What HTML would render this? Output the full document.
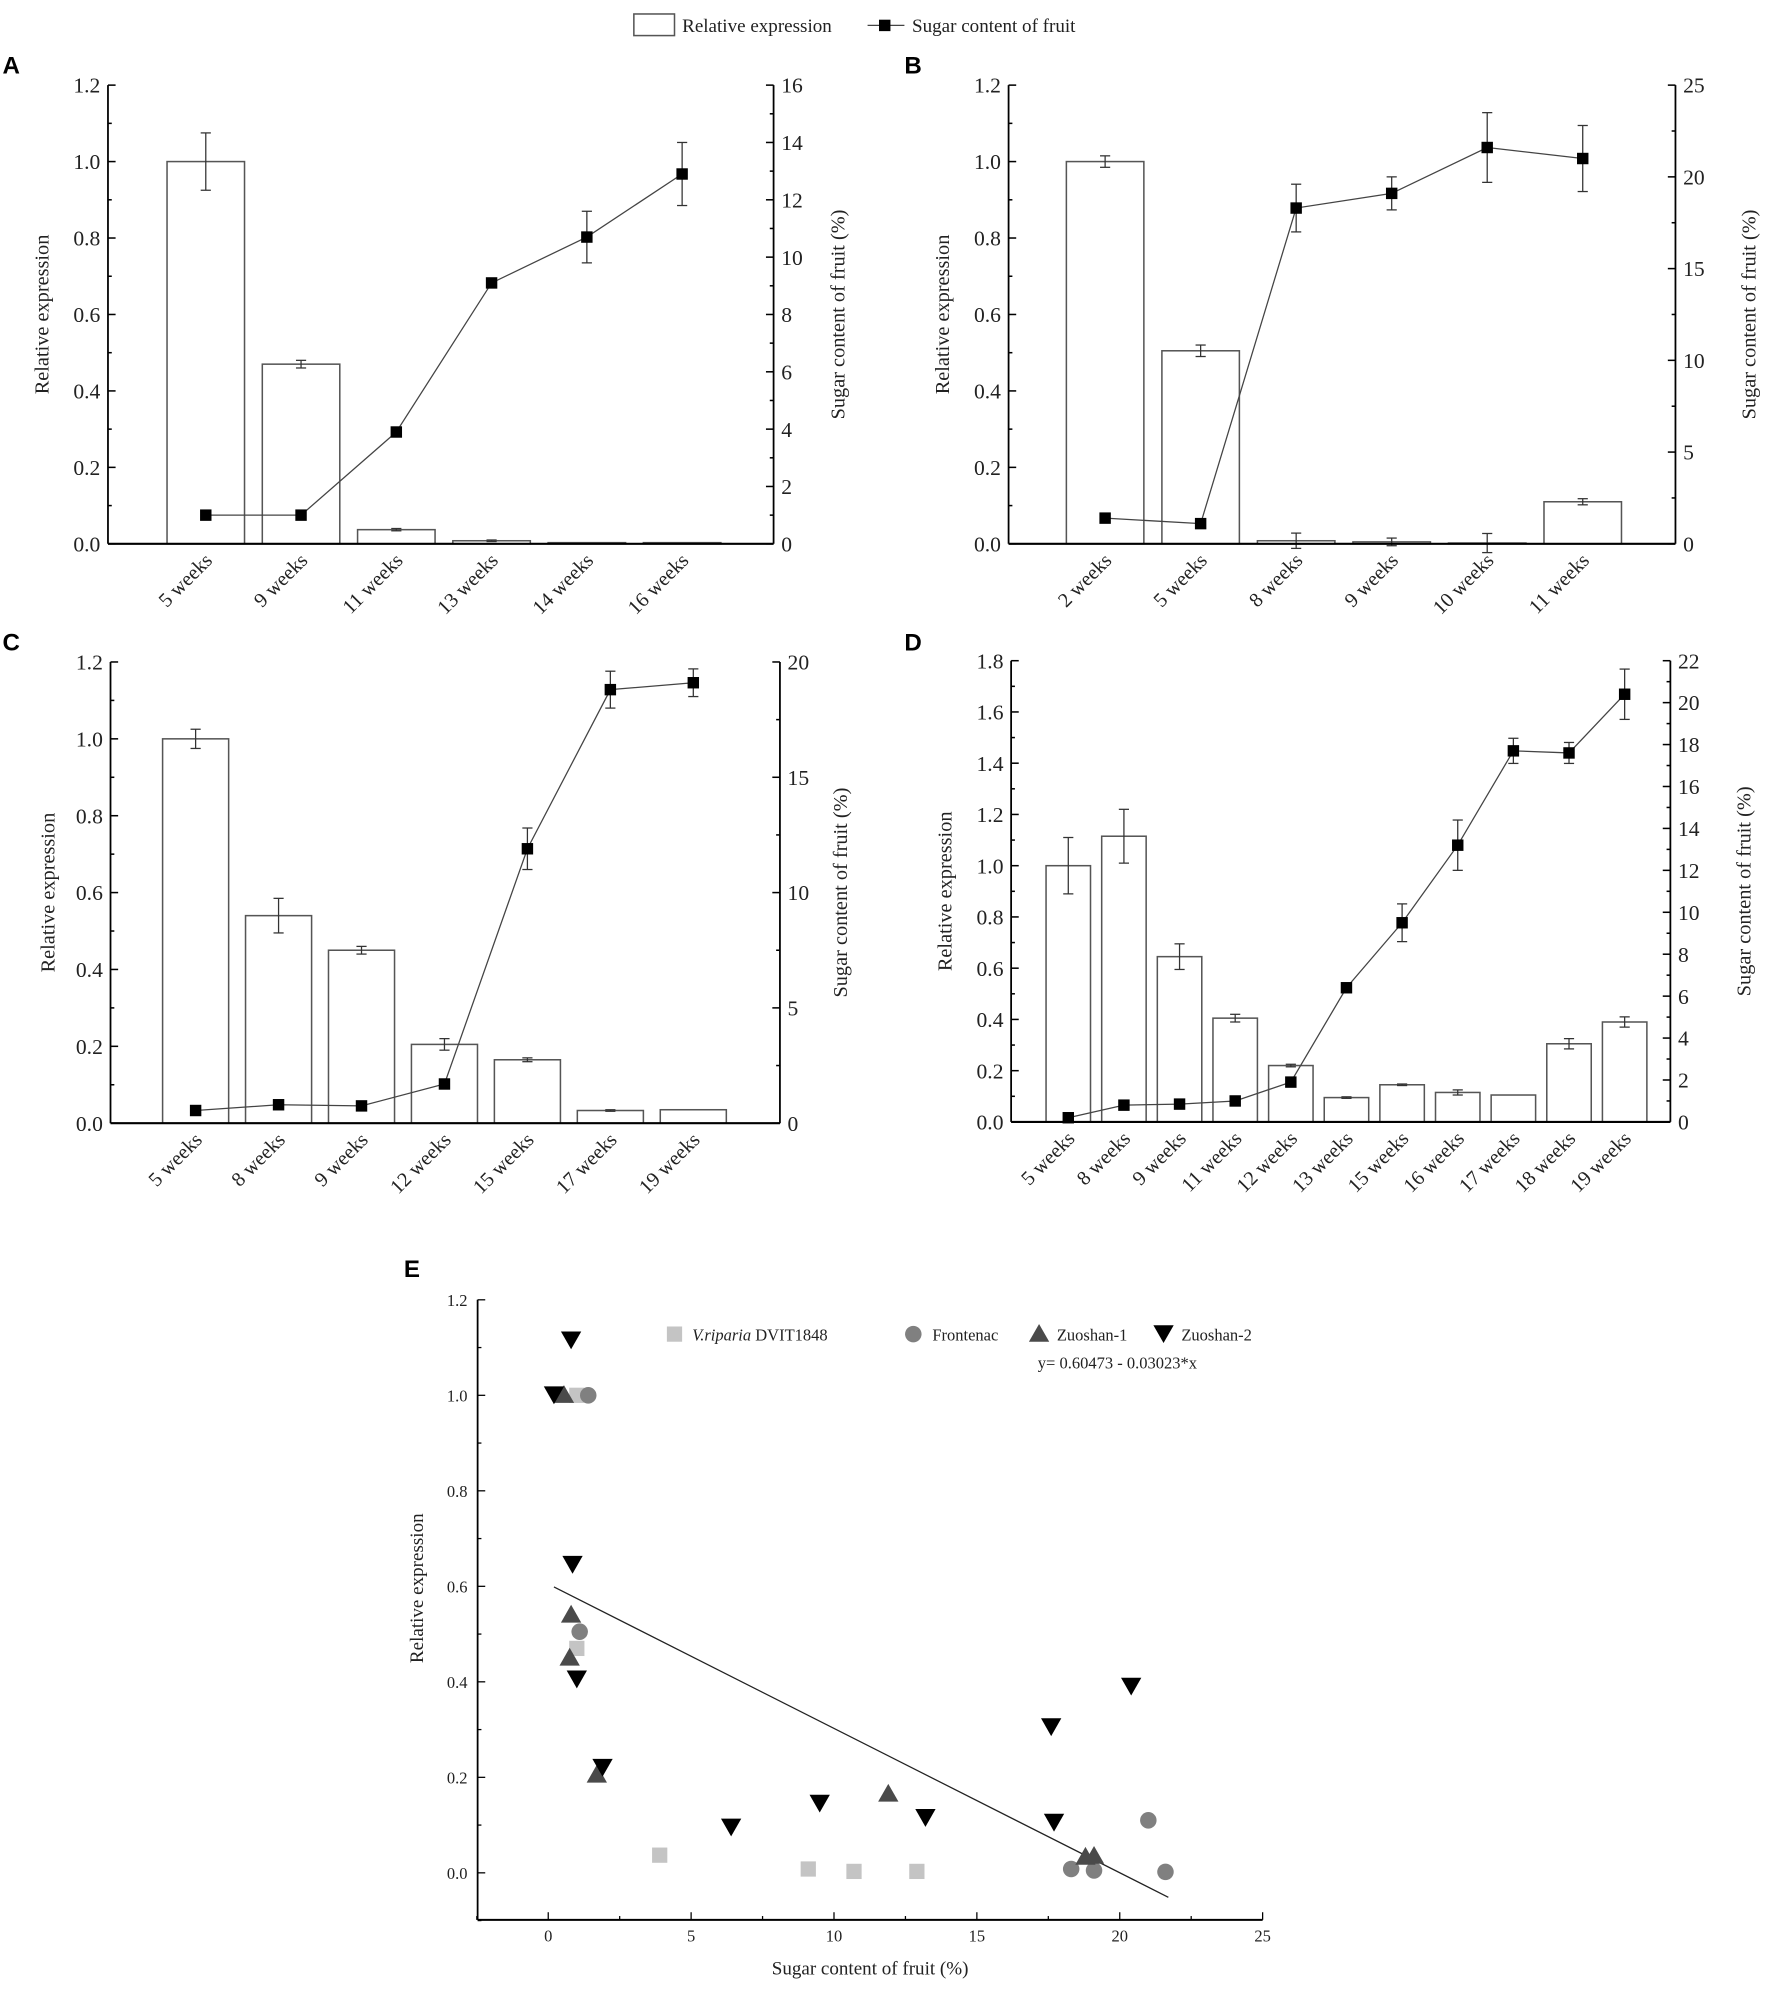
<!DOCTYPE html>
<html><head><meta charset="utf-8"><style>
html,body{margin:0;padding:0;background:#fff}
svg{display:block}
text{font-family:"Liberation Serif",serif;fill:#222}
.pl{font-family:"Liberation Sans",sans-serif;font-weight:bold;font-size:19px;fill:#000}
</style></head><body>
<svg id="fig" width="1772" height="1991" viewBox="0 0 1395 1567" preserveAspectRatio="none" xmlns="http://www.w3.org/2000/svg">
<g>
<rect x="499" y="11" width="32" height="17" fill="#fff" stroke="#555" stroke-width="1.2"/>
<text x="537" y="25" font-size="15">Relative expression</text>
<line x1="683" y1="20" x2="712" y2="20" stroke="#444" stroke-width="1"/>
<rect x="692" y="15.5" width="9" height="9" fill="#000"/>
<text x="718" y="25" font-size="15">Sugar content of fruit</text>
</g>
</svg>
<script>
const NS='http://www.w3.org/2000/svg';
const svg=document.getElementById('fig');
function mk(tag,attrs,parent){const e=document.createElementNS(NS,tag);for(const k in attrs)e.setAttribute(k,attrs[k]);(parent||svg).appendChild(e);return e;}

// Panel A
const catsA=['5 weeks','9 weeks','11 weeks','13 weeks','14 weeks','16 weeks'];
const expA=[1.0,0.47,0.037,0.008,0.003,0.003];
const expErrA=[0.075,0.01,0.003,0.002,0,0];
const sugA=[1.0,1.0,3.9,9.1,10.7,12.9];
const sugErrA=[0,0,0.1,0,0.9,1.1];
const leftTicksA=['0.0','0.2','0.4','0.6','0.8','1.0','1.2'];
const rightTicksA=['0','2','4','6','8','10','12','14','16'];
// Panel B
const catsB=['2 weeks','5 weeks','8 weeks','9 weeks','10 weeks','11 weeks'];
const expB=[1.0,0.505,0.008,0.005,0.002,0.11];
const expErrB=[0.015,0.015,0.02,0.01,0.025,0.008];
const sugB=[1.4,1.1,18.3,19.1,21.6,21.0];
const sugErrB=[0,0,1.3,0.9,1.9,1.8];
const leftTicksB=['0.0','0.2','0.4','0.6','0.8','1.0','1.2'];
const rightTicksB=['0','5','10','15','20','25'];
// Panel C
const catsC=['5 weeks','8  weeks','9  weeks','12 weeks','15 weeks','17 weeks','19 weeks'];
const expC=[1.0,0.54,0.45,0.205,0.165,0.033,0.035];
const expErrC=[0.025,0.045,0.01,0.015,0.005,0.002,0];
const sugC=[0.55,0.8,0.75,1.7,11.9,18.8,19.1];
const sugErrC=[0,0,0,0,0.9,0.8,0.6];
const leftTicksC=['0.0','0.2','0.4','0.6','0.8','1.0','1.2'];
const rightTicksC=['0','5','10','15','20'];
// Panel D
const catsD=['5 weeks','8  weeks','9  weeks','11 weeks','12 weeks','13 weeks','15 weeks','16 weeks','17 weeks','18 weeks','19 weeks'];
const expD=[1.0,1.115,0.645,0.405,0.22,0.095,0.145,0.115,0.105,0.305,0.39];
const expErrD=[0.11,0.105,0.05,0.015,0.005,0.003,0.003,0.01,0,0.02,0.02];
const sugD=[0.2,0.8,0.85,1.0,1.9,6.4,9.5,13.2,17.7,17.6,20.4];
const sugErrD=[0,0,0,0,0,0,0.9,1.2,0.6,0.5,1.2];
const leftTicksD=['0.0','0.2','0.4','0.6','0.8','1.0','1.2','1.4','1.6','1.8'];
const rightTicksD=['0','2','4','6','8','10','12','14','16','18','20','22'];

function panel(o){
  const g=mk('g',{});
  
  
  const yL=v=>o.bot-(v/o.lmax)*(o.bot-o.top);
  const yR=v=>o.bot-(v/o.rmax)*(o.bot-o.top);
  const xC=i=>o.left+o.off+i*o.slot;
  o.exp.forEach((v,i)=>{
    const r=mk('rect',{x:xC(i)-o.bw/2,y:yL(v),width:o.bw,height:Math.max(0.5,o.bot-yL(v)),fill:'#fff',stroke:'#555','stroke-width':1.2},g);
    
    
    const e=o.expErr[i];
    if(e>0){
      mk('line',{x1:xC(i),x2:xC(i),y1:yL(v+e),y2:yL(v-e),stroke:'#333','stroke-width':1},g);
      mk('line',{x1:xC(i)-4,x2:xC(i)+4,y1:yL(v+e),y2:yL(v+e),stroke:'#333','stroke-width':1},g);
      mk('line',{x1:xC(i)-4,x2:xC(i)+4,y1:yL(v-e),y2:yL(v-e),stroke:'#333','stroke-width':1},g);
    }
  });
  const pts=o.sug.map((v,i)=>xC(i)+','+yR(v)).join(' ');
  const pl=mk('polyline',{points:pts,fill:'none',stroke:'#444','stroke-width':1},g);
  
  
  o.sug.forEach((v,i)=>{
    const e=o.sugErr[i];
    if(e>0){
      mk('line',{x1:xC(i),x2:xC(i),y1:yR(v+e),y2:yR(v-e),stroke:'#333','stroke-width':1},g);
      mk('line',{x1:xC(i)-4,x2:xC(i)+4,y1:yR(v+e),y2:yR(v+e),stroke:'#333','stroke-width':1},g);
      mk('line',{x1:xC(i)-4,x2:xC(i)+4,y1:yR(v-e),y2:yR(v-e),stroke:'#333','stroke-width':1},g);
    }
    const m=mk('rect',{x:xC(i)-4.5,y:yR(v)-4.5,width:9,height:9,fill:'#000'},g);
    
    
  });
  mk('line',{x1:o.left,x2:o.left,y1:o.top,y2:o.bot,stroke:'#000','stroke-width':1.4},g);
  mk('line',{x1:o.right,x2:o.right,y1:o.top,y2:o.bot,stroke:'#000','stroke-width':1.4},g);
  mk('line',{x1:o.left,x2:o.right,y1:o.bot,y2:o.bot,stroke:'#000','stroke-width':1.6},g);
  const nl=o.lt.length-1;
  for(let k=0;k<=nl*2;k++){
    const y=o.bot-k/(nl*2)*(o.bot-o.top);
    mk('line',{x1:o.left,x2:o.left+(k%2?3:6),y1:y,y2:y,stroke:'#000','stroke-width':1.2},g);
  }
  o.lt.forEach((t,k)=>{
    const tx=mk('text',{x:o.left-6,y:o.bot-k/nl*(o.bot-o.top)+6,'text-anchor':'end','font-size':17},g);tx.textContent=t;
    
    
  });
  const nr=o.rt.length-1;
  for(let k=0;k<=nr*2;k++){
    const y=o.bot-k/(nr*2)*(o.bot-o.top);
    mk('line',{x1:o.right-(k%2?3:6),x2:o.right,y1:y,y2:y,stroke:'#000','stroke-width':1.2},g);
  }
  o.rt.forEach((t,k)=>{
    const tx=mk('text',{x:o.right+6,y:o.bot-k/nr*(o.bot-o.top)+6,'font-size':17},g);tx.textContent=t;
    
    
  });
  o.cats.forEach((c,i)=>{
    const x=xC(i)+6,y=o.bot+14;
    const tx=mk('text',{x:x,y:y,'text-anchor':'end','font-size':16,transform:`rotate(-45 ${x} ${y})`,'xml:space':'preserve'},g);tx.textContent=c;
    
    
  });
  const my=(o.top+o.bot)/2;
  const yl=mk('text',{x:o.ylx,y:my,'text-anchor':'middle','font-size':16,transform:`rotate(-90 ${o.ylx} ${my})`},g);yl.textContent='Relative expression';
  
  
  const yr=mk('text',{x:o.yrx,y:my,'text-anchor':'middle','font-size':16,transform:`rotate(-90 ${o.yrx} ${my})`},g);yr.textContent='Sugar content of fruit (%)';
  
  
  const pl2=mk('text',{x:o.lx,y:o.ly,class:'pl'},g);pl2.textContent=o.id;
  
  
}
panel({id:'A',cats:catsA,exp:expA,expErr:expErrA,sug:sugA,sugErr:sugErrA,lt:leftTicksA,rt:rightTicksA,lmax:1.2,rmax:16,left:85,right:609,top:67,bot:428,off:77,slot:75,bw:61,ylx:38,yrx:665,lx:2,ly:58});
panel({id:'B',cats:catsB,exp:expB,expErr:expErrB,sug:sugB,sugErr:sugErrB,lt:leftTicksB,rt:rightTicksB,lmax:1.2,rmax:25,left:794,right:1319,top:67,bot:428,off:76,slot:75.2,bw:61,ylx:747,yrx:1382,lx:712,ly:58});
panel({id:'C',cats:catsC,exp:expC,expErr:expErrC,sug:sugC,sugErr:sugErrC,lt:leftTicksC,rt:rightTicksC,lmax:1.2,rmax:20,left:87,right:614,top:521,bot:884,off:67,slot:65.3,bw:52,ylx:43,yrx:667,lx:2,ly:512});
panel({id:'D',cats:catsD,exp:expD,expErr:expErrD,sug:sugD,sugErr:sugErrD,lt:leftTicksD,rt:rightTicksD,lmax:1.8,rmax:22,left:796,right:1315,top:520,bot:883,off:45,slot:43.8,bw:35,ylx:749,yrx:1378,lx:712,ly:512});

// Panel E scatter
const sugE1=[1.0,1.0,3.9,9.1,10.7,12.9];
const expE1=[1.0,0.47,0.037,0.008,0.003,0.003];
const sugE2=[1.4,1.1,18.3,19.1,21.6,21.0];
const expE2=[1.0,0.505,0.008,0.005,0.002,0.11];
const sugE3=[0.55,0.8,0.75,1.7,11.9,18.8,19.1];
const expE3=[1.0,0.54,0.45,0.205,0.165,0.033,0.035];
const sugE4=[0.2,0.8,0.85,1.0,1.9,6.4,9.5,13.2,17.7,17.6,20.4];
const expE4=[1.0,1.115,0.645,0.405,0.22,0.095,0.145,0.115,0.105,0.305,0.39];
const fitE=[0.60473,-0.03023];
const xTicksE=['0','5','10','15','20','25'];
const yTicksE=['0.0','0.2','0.4','0.6','0.8','1.0','1.2'];
(function(){
  const g=mk('g',{});
  
  
  const L=376,R=994,T=1023,B=1511;
  const X=v=>431.6+v*(994-431.6)/25;
  const Y=v=>1474-v*(1474-1023)/1.2;
  mk('line',{x1:L,x2:L,y1:T,y2:B,stroke:'#000','stroke-width':1.4},g);
  mk('line',{x1:L,x2:R,y1:B,y2:B,stroke:'#000','stroke-width':1.6},g);
  for(let k=-1;k<=12;k++){const y=Y(k*0.1);mk('line',{x1:L,x2:L+(k%2?3:6),y1:y,y2:y,stroke:'#000'},g);}
  yTicksE.forEach((t,k)=>{const tx=mk('text',{x:L-8,y:Y(k*0.2)+5,'text-anchor':'end','font-size':13},g);tx.textContent=t;
    
    });
  for(let k=-1;k<=10;k++){const x=X(k*2.5);mk('line',{x1:x,x2:x,y1:B,y2:B-(k%2?3:6),stroke:'#000'},g);}
  xTicksE.forEach((t,k)=>{const tx=mk('text',{x:X(k*5),y:B+17,'text-anchor':'middle','font-size':13},g);tx.textContent=t;
    
    });
  const xt=mk('text',{x:685,y:1554,'text-anchor':'middle','font-size':15},g);xt.textContent='Sugar content of fruit (%)';
  
  
  const yt=mk('text',{x:333,y:1250,'text-anchor':'middle','font-size':15,transform:'rotate(-90 333 1250)'},g);yt.textContent='Relative expression';
  
  
  const pe=mk('text',{x:318,y:1005,class:'pl'},g);pe.textContent='E';
  
  
  const fl=mk('line',{x1:X(0.2),y1:Y(fitE[0]+fitE[1]*0.2),x2:X(21.7),y2:Y(fitE[0]+fitE[1]*21.7),stroke:'#222','stroke-width':1},g);
  
  
  function sq(x,y,c){return mk('rect',{x:x-6,y:y-6,width:12,height:12,fill:c},g);}
  function ci(x,y,c){return mk('circle',{cx:x,cy:y,r:6.5,fill:c},g);}
  function tu(x,y,c){return mk('polygon',{points:`${x-8},${y+6} ${x+8},${y+6} ${x},${y-8}`,fill:c},g);}
  function td(x,y,c){return mk('polygon',{points:`${x-8},${y-7} ${x+8},${y-7} ${x},${y+7}`,fill:c},g);}
  sugE1.forEach((s,i)=>{const m=sq(X(s),Y(expE1[i]),'#c4c4c4');});
  sugE2.forEach((s,i)=>{const m=ci(X(s),Y(expE2[i]),'#808080');});
  sugE3.forEach((s,i)=>{const m=tu(X(s),Y(expE3[i]),'#4a4a4a');});
  sugE4.forEach((s,i)=>{const m=td(X(s),Y(expE4[i]),'#000');});
  const lg=mk('g',{},g);
  
  
  sq(531,1050,'#c4c4c4');
  const t1=mk('text',{x:545,y:1055,'font-size':13},lg);t1.innerHTML='<tspan font-style="italic">V.riparia</tspan> DVIT1848';
  ci(719,1050,'#808080');
  const t2=mk('text',{x:734,y:1055,'font-size':13},lg);t2.textContent='Frontenac';
  tu(818,1050,'#4a4a4a');
  const t3=mk('text',{x:832,y:1055,'font-size':13},lg);t3.textContent='Zuoshan-1';
  td(916,1050,'#000');
  const t4=mk('text',{x:930,y:1055,'font-size':13},lg);t4.textContent='Zuoshan-2';
  const t5=mk('text',{x:817,y:1077,'font-size':13},lg);t5.textContent='y= 0.60473 - 0.03023*x';
})();
</script>
</body></html>
